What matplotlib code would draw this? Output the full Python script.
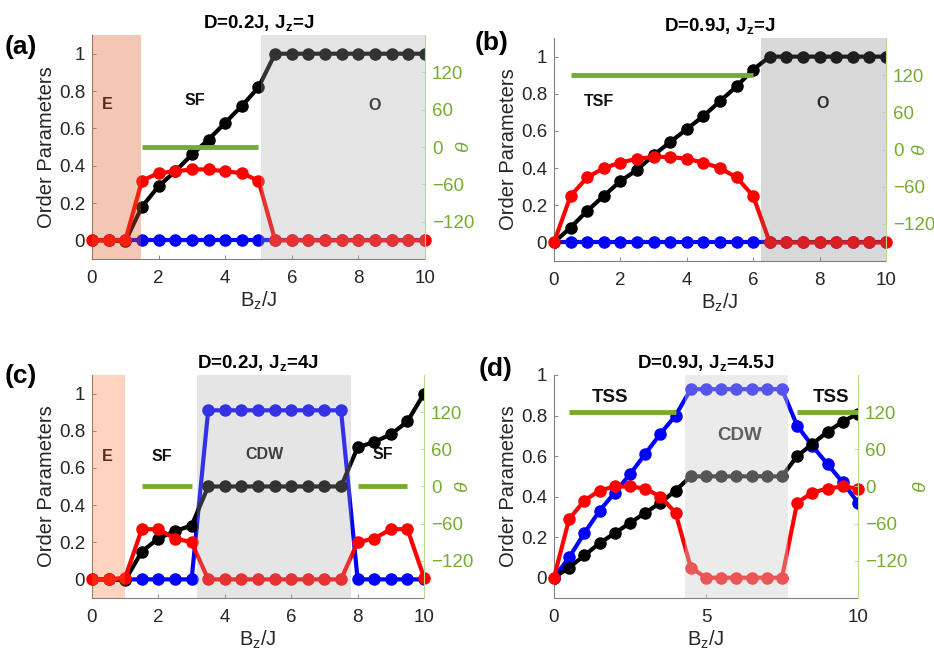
import matplotlib
matplotlib.use("Agg")
import matplotlib.pyplot as plt

plt.rcParams["font.family"] = ["Liberation Sans", "DejaVu Sans"]
plt.rcParams["mathtext.fontset"] = "custom"
plt.rcParams["mathtext.rm"] = "Liberation Sans"
plt.rcParams["mathtext.it"] = "Liberation Sans:italic"
plt.rcParams["mathtext.bf"] = "Liberation Sans:bold"

# field values B_z/J (same grid for every panel)
bz = [0, 0.5, 1, 1.5, 2, 2.5, 3, 3.5, 4, 4.5, 5,
      5.5, 6, 6.5, 7, 7.5, 8, 8.5, 9, 9.5, 10]

# panel (a): D=0.2J, Jz=J
a_black = [0, 0, -0.005, 0.18, 0.29, 0.37, 0.46, 0.54, 0.63, 0.72, 0.82,
           1, 1, 1, 1, 1, 1, 1, 1, 1, 1]
a_red = [0, 0, 0, 0.32, 0.36, 0.37, 0.38, 0.38, 0.37, 0.36, 0.32,
         0, 0, 0, 0, 0, 0, 0, 0, 0, 0]
a_blue = [0] * 21
a_theta = [(1.5, 5.0, 0)]

# panel (b): D=0.9J, Jz=J
b_black = [0, 0.08, 0.17, 0.25, 0.33, 0.39, 0.47, 0.54, 0.61, 0.68, 0.76,
           0.84, 0.93, 1, 1, 1, 1, 1, 1, 1, 1]
b_red = [0, 0.25, 0.35, 0.40, 0.43, 0.45, 0.46, 0.46, 0.45, 0.43, 0.40,
         0.35, 0.25, 0, 0, 0, 0, 0, 0, 0, 0]
b_blue = [0] * 21
b_theta = [(0.5, 6.0, 120)]

# panel (c): D=0.2J, Jz=4J
c_black = [0, 0, -0.005, 0.15, 0.22, 0.26, 0.29, 0.5, 0.5, 0.5, 0.5,
           0.5, 0.5, 0.5, 0.5, 0.5, 0.71, 0.74, 0.78, 0.85, 1.0]
c_red = [0, 0, 0.01, 0.27, 0.27, 0.22, 0.20, 0, 0, 0, 0,
         0, 0, 0, 0, 0, 0.20, 0.22, 0.27, 0.27, 0.01]
c_blue = [0, 0, 0, 0, 0, 0, 0, 0.91, 0.91, 0.91, 0.91,
          0.91, 0.91, 0.91, 0.91, 0.91, 0, 0, 0, 0, 0]
c_theta = [(1.5, 3.0, 0), (8.0, 9.5, 0)]

# panel (d): D=0.9J, Jz=4.5J
d_black = [0, 0.05, 0.11, 0.17, 0.22, 0.27, 0.32, 0.37, 0.43, 0.50, 0.50,
           0.50, 0.50, 0.50, 0.50, 0.50, 0.60, 0.66, 0.72, 0.77, 0.81]
d_red = [0, 0.29, 0.38, 0.43, 0.45, 0.45, 0.44, 0.40, 0.32, 0.05, 0,
         0, 0, 0, 0, 0, 0.37, 0.42, 0.44, 0.45, 0.44]
d_blue = [0, 0.10, 0.22, 0.33, 0.42, 0.51, 0.61, 0.71, 0.80, 0.93, 0.93,
          0.93, 0.93, 0.93, 0.93, 0.93, 0.75, 0.65, 0.56, 0.47, 0.37]
d_theta = [(0.5, 4.0, 120), (8.0, 10.0, 120)]

GREEN = "#77ac30"

panels = [
    dict(tag="(a)", title=r"D=0.2J, J$_\mathbf{z}$=J", black=a_black, red=a_red, blue=a_blue,
         theta=a_theta, ylim=(-0.1, 1.1), xticks=[0, 2, 4, 6, 8, 10],
         spans=[(0, 1.47, "#e05f2b", 0.35), (5.08, 10, "#aaaaaa", 0.30)],
         labels=[("E", 0.45, 0.73), ("SF", 3.1, 0.75), ("O", 8.5, 0.72)], lsize=11.5,
         rect=[0.0985, 0.6105, 0.3565, 0.3368], tagpos=(0.005, 0.93), thx=1.118),
    dict(tag="(b)", title=r"D=0.9J, J$_\mathbf{z}$=J", black=b_black, red=b_red, blue=b_blue,
         theta=b_theta, ylim=(-0.1, 1.1), xticks=[0, 2, 4, 6, 8, 10],
         spans=[(6.25, 10, "#707070", 0.27)],
         labels=[("TSF", 1.35, 0.76), ("O", 8.1, 0.75)], lsize=11.5,
         rect=[0.5931, 0.6075, 0.3555, 0.3353], tagpos=(0.508, 0.935), thx=1.105),
    dict(tag="(c)", title=r"D=0.2J, J$_\mathbf{z}$=4J", black=c_black, red=c_red, blue=c_blue,
         theta=c_theta, ylim=(-0.1, 1.1), xticks=[0, 2, 4, 6, 8, 10],
         spans=[(0, 1.0, "#f8732d", 0.30), (3.15, 7.8, "#aaaaaa", 0.30)],
         labels=[("E", 0.45, 0.66), ("SF", 2.1, 0.66), ("CDW", 5.2, 0.67), ("SF", 8.75, 0.67)],
         lsize=11.5,
         rect=[0.0985, 0.1008, 0.3555, 0.3353], tagpos=(0.005, 0.435), thx=1.12),
    dict(tag="(d)", title=r"D=0.9J, J$_\mathbf{z}$=4.5J", black=d_black, red=d_red, blue=d_blue,
         theta=d_theta, ylim=(-0.1, 1.0), xticks=[0, 5, 10],
         spans=[(4.3, 7.7, "#cfcfcf", 0.41)],
         labels=[("TSS", 1.85, 0.89), ("CDW", 6.1, 0.70), ("TSS", 9.1, 0.89)], lsize=13.5,
         rect=[0.5931, 0.1008, 0.3255, 0.3353], tagpos=(0.512, 0.445), thx=1.21),
]

fig = plt.figure(figsize=(9.34, 6.65), dpi=100)

for p in panels:
    ax = fig.add_axes(p["rect"])
    ax.plot(bz, p["blue"], "-o", color="#0000ff", lw=3, ms=8, zorder=2)
    ax.plot(bz, p["black"], "-o", color="#000000", lw=3, ms=8, zorder=3)
    ax.plot(bz, p["red"], "-o", color="#ff0000", lw=3, ms=8, zorder=4, clip_on=False)
    for x0, x1, col, al in p["spans"]:
        ax.axvspan(x0, x1, color=col, alpha=al, lw=0, zorder=6)
    for txt, x, y in p["labels"]:
        ax.text(x, y, txt, ha="center", va="center", fontsize=p["lsize"],
                fontweight="bold", color="#111111", zorder=1)
    ax.set_xlim(0, 10)
    ax.set_ylim(*p["ylim"])
    ax.set_xticks(p["xticks"])
    ax.set_yticks([0, 0.2, 0.4, 0.6, 0.8, 1])
    ax.set_yticklabels(["0", "0.2", "0.4", "0.6", "0.8", "1"])
    ax.tick_params(direction="in", length=3, width=0.6, color="#777777",
                   labelsize=13.5, labelcolor="#262626")
    ax.tick_params(axis="x", pad=8)
    ax.tick_params(axis="y", pad=5)
    ax.spines["top"].set_visible(False)
    ax.spines["right"].set_visible(False)
    for s in ("left", "bottom"):
        ax.spines[s].set_color("#808080")
        ax.spines[s].set_linewidth(0.8)
    ax.set_xlabel(r"B$_\mathregular{z}$/J", fontsize=14.5, color="#262626", labelpad=2)
    ax.set_ylabel("Order Parameters", fontsize=14.5, color="#262626", labelpad=2)
    ax.set_title(p["title"], fontsize=13.5, fontweight="bold", pad=5)

    ax2 = ax.twinx()
    for x0, x1, th in p["theta"]:
        ax2.plot([x0, x1], [th, th], color=GREEN, lw=3.5, solid_capstyle="butt")
    ax2.set_ylim(-180, 180)
    ax2.set_yticks([-120, -60, 0, 60, 120])
    ax2.tick_params(direction="in", length=3, width=0.6, color="#b5d98d",
                    labelsize=13.5, labelcolor=GREEN, pad=5)
    for s in ("top", "left", "bottom"):
        ax2.spines[s].set_visible(False)
    ax2.spines["right"].set_color("#b5d98d")
    ax2.spines["right"].set_linewidth(0.8)
    ax2.set_ylabel(r"$\theta$", fontsize=14, color=GREEN, rotation=90,
                   ha="center", va="center")
    ax2.yaxis.set_label_coords(p["thx"], 0.5)

    fig.text(p["tagpos"][0], p["tagpos"][1], p["tag"], fontsize=19,
             fontweight="bold", va="center")

fig.savefig("out.png", dpi=100)
